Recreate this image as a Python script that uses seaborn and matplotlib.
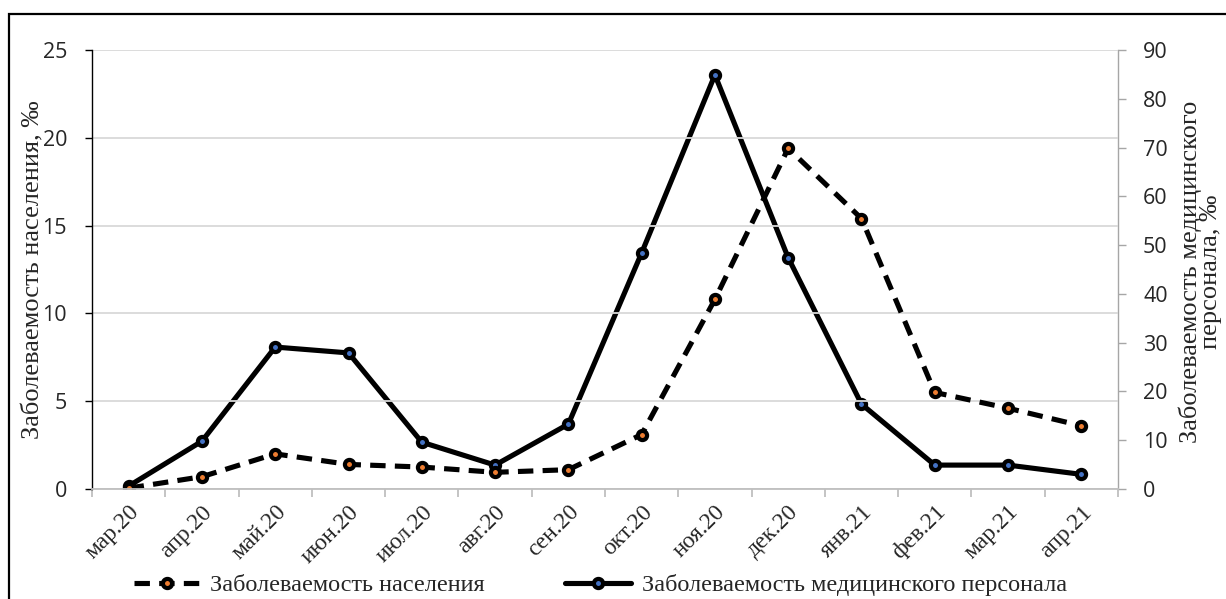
import matplotlib
matplotlib.use("Agg")
import matplotlib.pyplot as plt
from matplotlib.lines import Line2D
from matplotlib.patches import Rectangle
import seaborn as sns
import pandas as pd
import numpy as np

months = ["мар.20", "апр.20", "май.20", "июн.20", "июл.20", "авг.20", "сен.20",
          "окт.20", "ноя.20", "дек.20", "янв.21", "фев.21", "мар.21", "апр.21"]
population = [0.05, 0.7, 2.0, 1.4, 1.25, 0.95, 1.1, 3.1, 10.8, 19.4, 15.4, 5.5, 4.6, 3.6]
staff = [0.6, 9.8, 29.1, 27.9, 9.6, 4.9, 13.3, 48.4, 84.9, 47.4, 17.4, 4.9, 4.9, 3.0]

label_pop = "Заболеваемость населения"
label_staff = "Заболеваемость медицинского персонала"

sns.set_theme(style="white")
plt.rcParams["font.family"] = ["DejaVu Sans"]

SERIF = "Liberation Serif"
NUM = "Open Sans"
W, H = 1226, 599

df = pd.DataFrame({"x": np.arange(len(months)), "pop": population, "staff": staff})

fig = plt.figure(figsize=(W / 100, H / 100), dpi=100)
ax = fig.add_axes([92 / W, 1 - 489 / H, (1118 - 92) / W, (489 - 50) / H])
ax2 = ax.twinx()

LW = 3.7
DASH = [3.0, 1.8]
MS, MEW = 6.6, 3.0
line_kw = dict(color="black", linewidth=LW, marker="o", markersize=MS,
               markeredgecolor="black", markeredgewidth=MEW)

sns.lineplot(data=df, x="x", y="pop", ax=ax, markerfacecolor="#ED7D31", **line_kw)
ax.lines[-1].set_dashes(DASH)
ax.lines[-1].set_dash_capstyle("butt")
sns.lineplot(data=df, x="x", y="staff", ax=ax2, markerfacecolor="#4472C4", **line_kw)

ax.set_xlim(-0.5, len(months) - 0.5)
ax.set_ylim(0, 25)
ax2.set_ylim(0, 90)
ax.set_yticks(np.arange(0, 26, 5))
ax2.set_yticks(np.arange(0, 91, 10))

ax.grid(axis="y", color="#D9D9D9", linewidth=1.3)
ax.set_axisbelow(True)
ax.set_zorder(ax2.get_zorder() + 1)
ax.patch.set_visible(False)

for a in (ax, ax2):
    a.spines["top"].set_visible(False)
ax.spines["left"].set_color("black")
ax.spines["left"].set_linewidth(1.0)
ax.spines["bottom"].set_color("#BFBFBF")
ax.spines["bottom"].set_linewidth(1.3)
ax.spines["right"].set_visible(False)
ax2.spines["left"].set_visible(False)
ax2.spines["bottom"].set_visible(False)
ax2.spines["right"].set_color("#A6A6A6")
ax2.spines["right"].set_linewidth(1.0)

# category labels at centers, tick marks at category borders
ax.set_xticks(np.arange(len(months)))
ax.set_xticklabels(months, rotation=45, ha="right", rotation_mode="anchor",
                   family=SERIF, fontsize=17)
ax.tick_params(axis="x", which="major", length=0, pad=9)
ax.set_xticks(np.arange(-0.5, len(months)), minor=True)
ax.tick_params(axis="x", which="minor", length=6, color="#BFBFBF", width=1.3,
               bottom=True)

ax.tick_params(axis="y", which="major", left=True, length=5, width=1.0,
               color="black", pad=13)
for t in ax.get_yticklabels():
    t.set_family(NUM)
    t.set_fontsize(15.5)
ax2.tick_params(axis="y", which="major", right=True, length=6, width=1.0,
                color="#A6A6A6", pad=12)
for t in ax2.get_yticklabels():
    t.set_family(NUM)
    t.set_fontsize(15.5)

ax.set_xlabel("")
ax.set_ylabel("Заболеваемость населения, ‰", family=SERIF, fontsize=19)
ax.yaxis.set_label_coords((44 - 92) / (1118 - 92), 0.5)
ax2.set_ylabel("")
fig.text(1200 / W, 1 - 272 / H, "Заболеваемость медицинского\nперсонала, ‰",
         rotation=90, ha="center", va="center", family=SERIF, fontsize=19,
         linespacing=0.9, multialignment="center")

handles = [
    Line2D([], [], color="black", linewidth=LW, dashes=DASH, marker="o",
           markersize=MS, markerfacecolor="#ED7D31", markeredgecolor="black",
           markeredgewidth=MEW),
    Line2D([], [], color="black", linewidth=LW, marker="o", markersize=MS,
           markerfacecolor="#4472C4", markeredgecolor="black",
           markeredgewidth=MEW),
]
fig.legend(handles, [label_pop, label_staff], loc="center left",
           bbox_to_anchor=(124 / W, 1 - 585 / H), ncol=2, frameon=False,
           prop={"family": SERIF, "size": 17.5}, handlelength=2.7,
           handletextpad=0.45, columnspacing=3.3, borderaxespad=0)

fig.patches.append(Rectangle((9 / W, -0.05), 1.2, 1 - 14 / H + 0.05,
                             transform=fig.transFigure, fill=False,
                             edgecolor="black", linewidth=1.6))

fig.savefig("out.png", dpi=100, facecolor="white")
